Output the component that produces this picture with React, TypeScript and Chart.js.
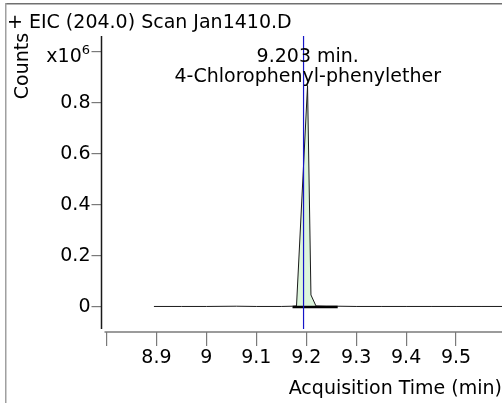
import React, { useEffect, useRef } from 'react';
import { Chart, registerables } from 'chart.js';

Chart.register(...registerables);

const FONT = '"DejaVu Sans", Verdana, sans-serif';

// Chromatogram trace (retention time in min, counts in x10^6)
const traceX = [8.895, 8.95, 9.0, 9.06, 9.1, 9.15, 9.1725, 9.1805, 9.2026, 9.2094, 9.2195, 9.24, 9.263, 9.3, 9.35, 9.4, 9.45, 9.5, 9.55, 9.6];
const traceY = [0.002, 0.002, 0.002, 0.003, 0.002, 0.002, 0.003, 0.004, 0.867, 0.047, 0.004, 0.003, 0.003, 0.002, 0.002, 0.002, 0.002, 0.002, 0.002, 0.002];

// Integrated peak region (filled)
const peakX = [9.1805, 9.2026, 9.2094, 9.2195];
const peakY = [0.004, 0.867, 0.047, 0.004];

// Integration baseline
const baseX = [9.1725, 9.263];
const baseY = [0, 0];

// Retention-time marker
const markerRT = 9.1946;
const markerY = [1.061, -0.086];

// Peak annotation
const apexRT = 9.203;
const annotationLines = ['9.203 min.', '4-Chlorophenyl-phenylether'];

const titleText = '+ EIC (204.0) Scan Jan1410.D';
const yTitle = 'Counts';
const xTitle = 'Acquisition Time (min)';
const yUnitBase = 'x10';
const yUnitExp = '6';

const xTickValues = [8.8, 8.9, 9.0, 9.1, 9.2, 9.3, 9.4, 9.5];
const xTickLabels = ['', '8.9', '9', '9.1', '9.2', '9.3', '9.4', '9.5'];
const yTickValues = [0, 0.2, 0.4, 0.6, 0.8, 1.0];
const yTickLabels = ['0', '0.2', '0.4', '0.6', '0.8', ''];

const xMin = 8.79;
const xMax = 9.592;
const yMin = -0.098;
const yMax = 1.061;

const pts = (xs: number[], ys: number[]) => xs.map((x, i) => ({ x, y: ys[i] }));

const decor = {
  id: 'decor',
  beforeDraw(chart: any) {
    const { ctx, width, height } = chart;
    ctx.save();
    ctx.fillStyle = '#ffffff';
    ctx.fillRect(0, 0, width, height);
    ctx.restore();
  },
  afterDraw(chart: any) {
    const { ctx, chartArea, scales } = chart;
    const { left, top, right, bottom } = chartArea;
    ctx.save();
    // frame
    ctx.fillStyle = '#707070';
    ctx.fillRect(5, 3, 497, 1.5);
    ctx.fillStyle = '#a0a0a0';
    ctx.fillRect(5, 3, 1.5, 400);
    // axis lines
    ctx.lineWidth = 1.5;
    ctx.strokeStyle = '#1a1a1a';
    ctx.beginPath();
    ctx.moveTo(left, top);
    ctx.lineTo(left, bottom - 3);
    ctx.stroke();
    ctx.strokeStyle = '#7a7a7a';
    ctx.beginPath();
    ctx.moveTo(left + 3, bottom);
    ctx.lineTo(right, bottom);
    ctx.stroke();
    // texts
    ctx.fillStyle = '#000000';
    ctx.font = `19px ${FONT}`;
    ctx.textBaseline = 'alphabetic';
    ctx.textAlign = 'left';
    ctx.fillText(titleText, 7, 28);
    const ax = scales.x.getPixelForValue(apexRT);
    ctx.textAlign = 'center';
    ctx.fillText(annotationLines[0], ax, 61.5);
    ctx.fillText(annotationLines[1], ax, 82);
    // unit label at top tick
    const uy = scales.y.getPixelForValue(yTickValues[yTickValues.length - 1]);
    ctx.textAlign = 'right';
    ctx.font = `13px ${FONT}`;
    const expW = ctx.measureText(yUnitExp).width;
    ctx.fillText(yUnitExp, 90, uy + 2);
    ctx.font = `19px ${FONT}`;
    ctx.fillText(yUnitBase, 90 - expW, uy + 10.5);
    // y title
    ctx.save();
    ctx.translate(27.5, 66);
    ctx.rotate(-Math.PI / 2);
    ctx.textAlign = 'center';
    ctx.fillText(yTitle, 0, 0);
    ctx.restore();
    ctx.restore();
  },
};

export default function App() {
  const ref = useRef<HTMLCanvasElement>(null);
  useEffect(() => {
    if (!ref.current) return;
    const chart = new Chart(ref.current, {
      type: 'line',
      data: {
        datasets: [
          {
            data: pts([markerRT, markerRT], markerY),
            borderColor: '#1515c8',
            borderWidth: 1.2,
            pointRadius: 0,
            fill: false,
          },
          {
            data: pts(baseX, baseY),
            borderColor: '#000000',
            borderWidth: 2.5,
            pointRadius: 0,
            fill: false,
          },
          {
            data: pts(traceX, traceY),
            borderColor: '#1a1a1a',
            borderWidth: 1,
            pointRadius: 0,
            fill: false,
            tension: 0,
          },
          {
            data: pts(peakX, peakY),
            borderWidth: 0,
            borderColor: 'rgba(0,0,0,0)',
            backgroundColor: '#dcf5dc',
            pointRadius: 0,
            fill: 'origin',
          },
        ],
      },
      options: {
        responsive: false,
        animation: false,
        devicePixelRatio: 1,
        layout: { padding: { top: 36, left: 0, right: 0, bottom: 0 } },
        plugins: { legend: { display: false }, tooltip: { enabled: false }, title: { display: false } },
        scales: {
          x: {
            type: 'linear',
            min: xMin,
            max: xMax,
            afterFit: (s: any) => { s.height = 71; },
            afterBuildTicks: (s: any) => { s.ticks = xTickValues.map((v) => ({ value: v })); },
            ticks: {
              callback: (_v: any, i: number) => xTickLabels[i],
              font: { family: FONT, size: 19 },
              color: '#000000',
              padding: 1,
              maxRotation: 0,
              autoSkip: false,
            },
            grid: { drawOnChartArea: false, drawTicks: true, tickLength: 14, color: '#7a7a7a', lineWidth: 1.2 },
            border: { display: false },
            title: {
              display: true,
              text: xTitle,
              align: 'end',
              font: { family: FONT, size: 19 },
              color: '#000000',
              padding: { top: 0, bottom: 2.5 },
            },
          },
          y: {
            type: 'linear',
            min: yMin,
            max: yMax,
            afterFit: (s: any) => { s.width = 101.5; },
            afterBuildTicks: (s: any) => { s.ticks = yTickValues.map((v) => ({ value: v })); },
            ticks: {
              callback: (_v: any, i: number) => yTickLabels[i],
              font: { family: FONT, size: 19 },
              color: '#000000',
              padding: 1,
              autoSkip: false,
            },
            grid: { drawOnChartArea: false, drawTicks: true, tickLength: 10, color: '#7a7a7a', lineWidth: 1.2 },
            border: { display: false },
          },
        },
      },
      plugins: [decor],
    } as any);
    return () => chart.destroy();
  }, []);
  return (
    <div style={{ position: 'absolute', left: 0, top: 0, width: 502, height: 403 }}>
      <canvas ref={ref} width={502} height={403} style={{ display: 'block' }} />
    </div>
  );
}
